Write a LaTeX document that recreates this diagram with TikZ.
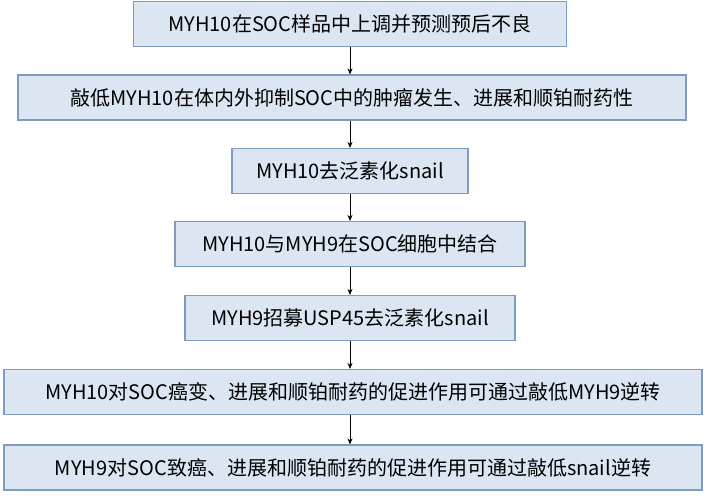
\documentclass[tikz,border=0pt]{standalone}
\usepackage{fontspec}
\setmainfont{Noto Sans CJK SC}
\usetikzlibrary{positioning,arrows.meta}
\definecolor{boxfill}{HTML}{DCE6F2}
\definecolor{boxline}{HTML}{7F9BBF}
\tikzset{
    stepbox/.style={
        rectangle,
        fill=boxfill,
        draw=boxline, line width=1.2pt,
        minimum height=45pt,
        inner xsep=0pt,
        font={\fontsize{20pt}{24pt}\selectfont}
    },
    flow/.style={draw, -{Stealth[length=6pt,width=5pt]}, line width=0.6pt},
}
\begin{document}
\begin{tikzpicture}[x=1pt, y=-1pt]
\useasboundingbox (0,0) rectangle (709,495);

\node [stepbox, minimum width=433pt] (up) at (350,24) {MYH10在SOC样品中上调并预测预后不良};
\node [stepbox, minimum width=668pt] (knock) at (352,97.5) {敲低MYH10在体内外抑制SOC中的肿瘤发生、进展和顺铂耐药性};
\node [stepbox, minimum width=236pt] (deub) at (350,171) {MYH10去泛素化snail};
\node [stepbox, minimum width=350pt] (bind) at (350,244) {MYH10与MYH9在SOC细胞中结合};
\node [stepbox, minimum width=330pt] (usp) at (350,318) {MYH9招募USP45去泛素化snail};
\node [stepbox, minimum width=698pt] (rev10) at (353,392) {MYH10对SOC癌变、进展和顺铂耐药的促进作用可通过敲低MYH9逆转};
\node [stepbox, minimum width=698pt] (rev9) at (353,467.5) {MYH9对SOC致癌、进展和顺铂耐药的促进作用可通过敲低snail逆转};

\foreach \a/\b in {up/knock, knock/deub, deub/bind, bind/usp, usp/rev10, rev10/rev9}
  \draw [flow] (\a.south -| 350,0) -- (\b.north -| 350,0);

\end{tikzpicture}
\end{document}
